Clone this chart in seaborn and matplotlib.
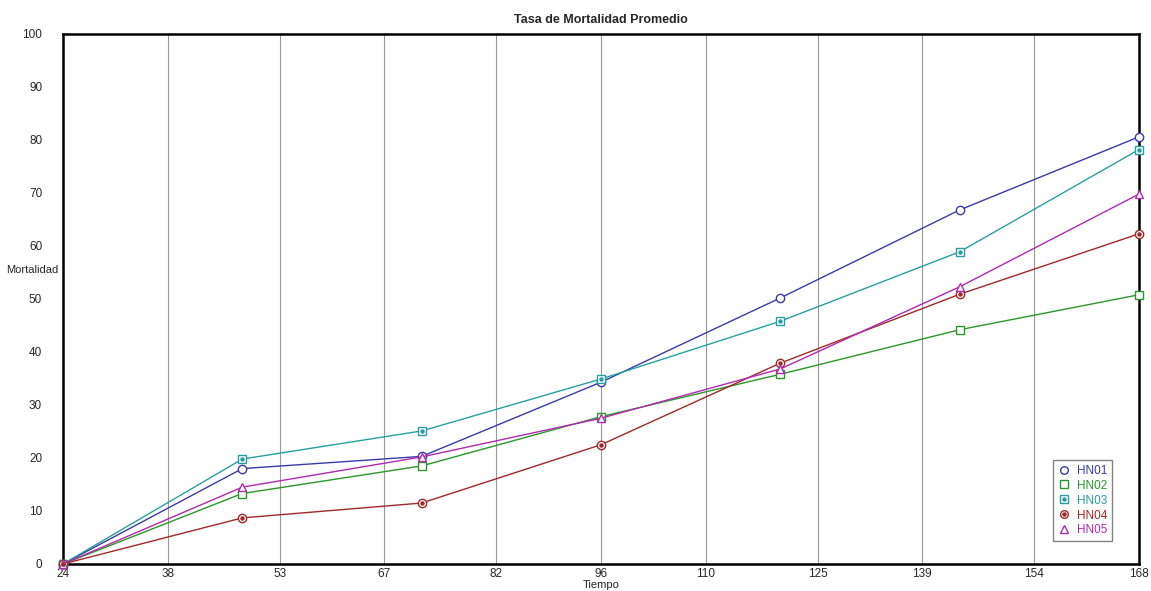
import numpy as np
import pandas as pd
import matplotlib
matplotlib.use("Agg")
import matplotlib.pyplot as plt
import seaborn as sns
from matplotlib.lines import Line2D

# Datos
tiempo = [24, 48, 72, 96, 120, 144, 168]
hn01 = [0, 18.0, 20.3, 34.3, 50.2, 66.8, 80.6]
hn02 = [0, 13.3, 18.5, 27.8, 35.8, 44.2, 50.8]
hn03 = [0, 19.8, 25.1, 34.9, 45.8, 58.9, 78.2]
hn04 = [0, 8.7, 11.5, 22.5, 37.9, 50.9, 62.3]
hn05 = [0, 14.5, 20.2, 27.5, 36.8, 52.3, 69.8]
series = ["HN01", "HN02", "HN03", "HN04", "HN05"]
x_ticks = [24, 38, 53, 67, 82, 96, 110, 125, 139, 154, 168]

colores = {"HN01": "#3a3aa8", "HN02": "#2a962a", "HN03": "#2a9e9e",
           "HN04": "#a02828", "HN05": "#b02ab0"}
marcadores = {"HN01": "o", "HN02": "s", "HN03": "s", "HN04": "o", "HN05": "^"}
punto_central = {"HN01": False, "HN02": False, "HN03": True, "HN04": True, "HN05": False}

df = pd.DataFrame({"Tiempo": tiempo, "HN01": hn01, "HN02": hn02,
                   "HN03": hn03, "HN04": hn04, "HN05": hn05})
df_long = df.melt(id_vars="Tiempo", var_name="serie", value_name="Mortalidad")

sns.set_style("white")
plt.rcParams["font.family"] = ["Liberation Sans", "DejaVu Sans"]

fig = plt.figure(figsize=(11.51, 5.91), dpi=100)
ax = fig.add_axes([0.0547, 0.0457, 0.9349, 0.8968])

handles = []
for s in series:
    d = df_long[df_long["serie"] == s]
    c = colores[s]
    sns.lineplot(data=d, x="Tiempo", y="Mortalidad", ax=ax, color=c, lw=1.0,
                 marker=marcadores[s], markersize=6 if marcadores[s] != "s" else 5.5,
                 mfc="white", mec=c, mew=1.0, clip_on=False, zorder=3, legend=False)
    h = [Line2D([], [], ls="none", marker=marcadores[s], markersize=5.5, mfc="white", mec=c, mew=1.0)]
    if punto_central[s]:
        ax.plot(d["Tiempo"], d["Mortalidad"], ls="none", marker="o", markersize=2.2,
                color=c, clip_on=False, zorder=4)
        h.append(Line2D([], [], ls="none", marker="o", markersize=2.2, color=c))
    handles.append(tuple(h))

ax.set_xlim(24, 168)
ax.set_ylim(0, 100)
ax.set_xticks(x_ticks)
ax.set_yticks(np.arange(0, 101, 10))
ax.grid(axis="x", color="#999999", lw=0.8)
ax.grid(axis="y", visible=False)
for sp in ax.spines.values():
    sp.set_color("black")
    sp.set_linewidth(1.8)
ax.tick_params(axis="y", direction="in", length=3, width=0.6, color="#888888",
               labelsize=8.5, pad=15)
ax.tick_params(axis="x", length=0, labelsize=8.5, pad=3)
ax.set_xlabel("Tiempo", fontsize=8, labelpad=0)
ax.set_ylabel("Mortalidad", fontsize=8, rotation=0, labelpad=0)
ax.yaxis.set_label_coords(-0.029, 0.545)
ax.set_title("Tasa de Mortalidad Promedio", fontsize=9, fontweight="bold", pad=8)

leg = ax.legend(handles, series, loc="lower right", bbox_to_anchor=(0.975, 0.043),
                fontsize=8.5, frameon=True, fancybox=False, handlelength=1.0,
                handletextpad=0.6, borderpad=0.4, labelspacing=0.25, borderaxespad=0)
leg.get_frame().set_edgecolor("#666666")
leg.get_frame().set_linewidth(1.0)
for t, s in zip(leg.get_texts(), series):
    t.set_color(colores[s])

fig.savefig("out.png", dpi=100)
